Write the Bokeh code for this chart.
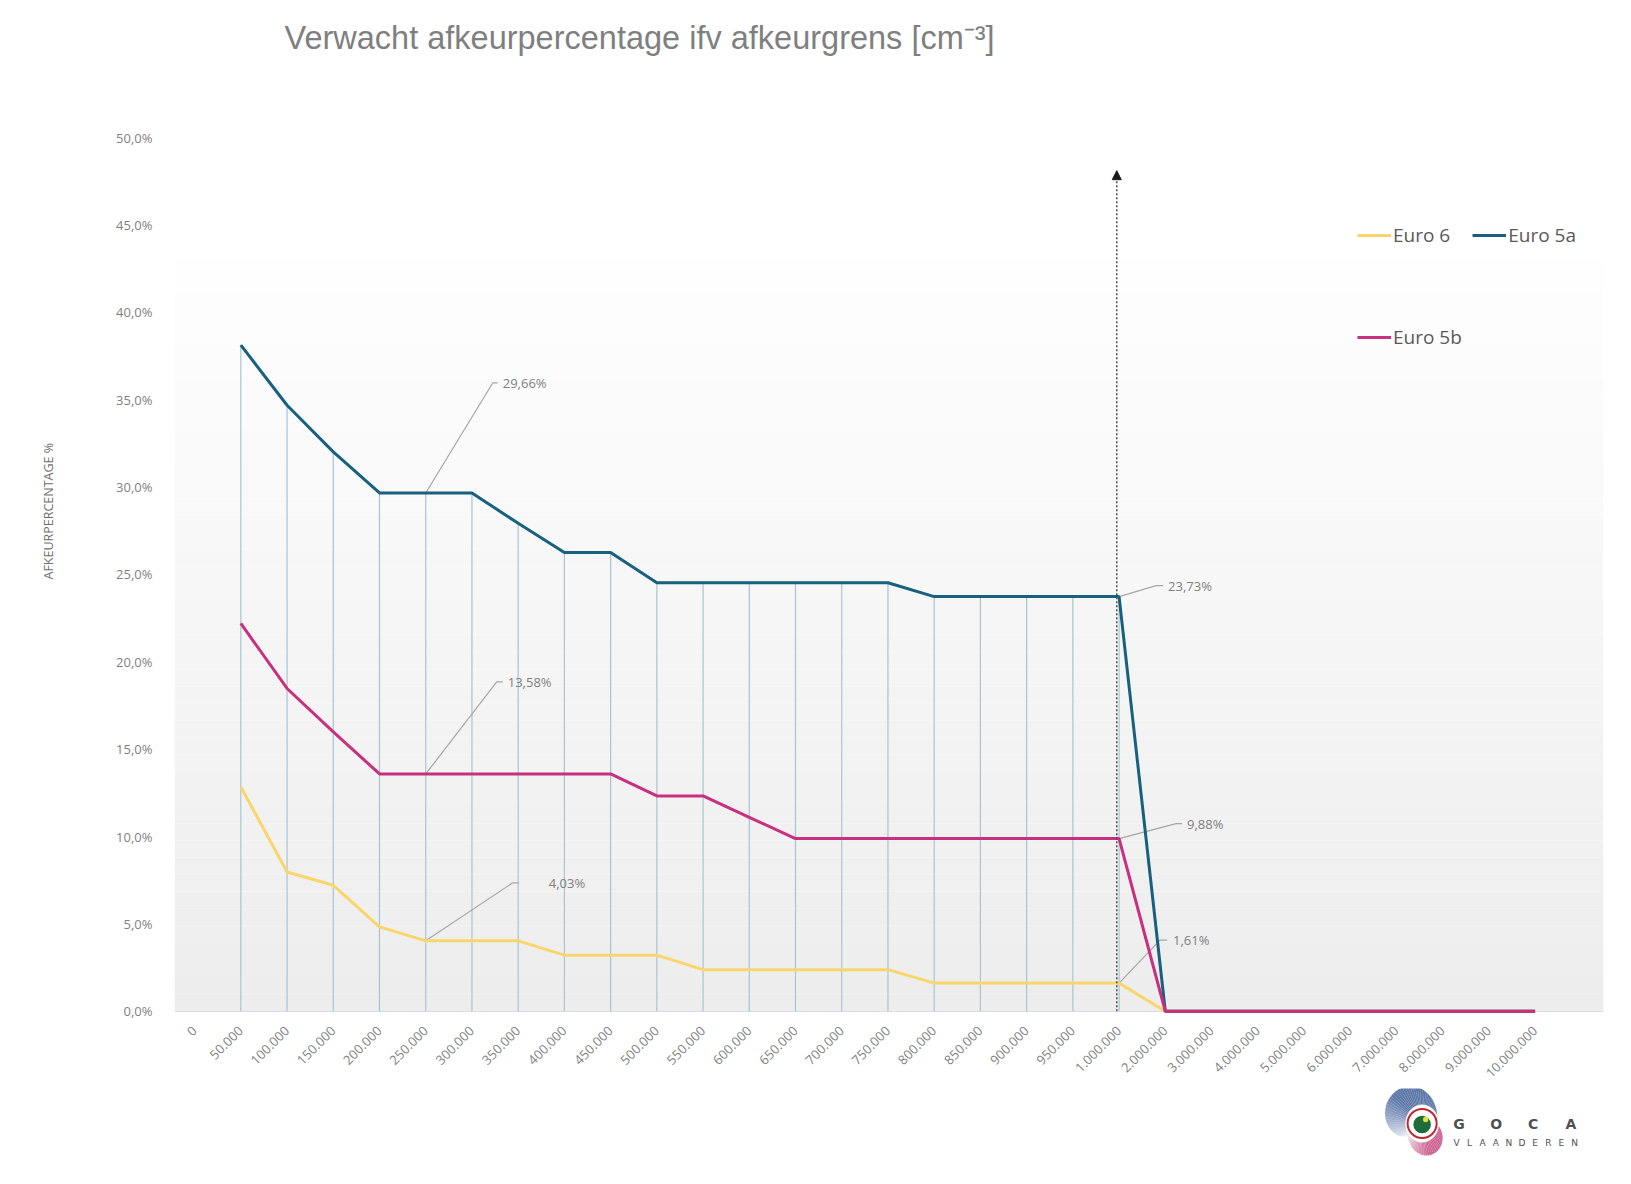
import math
from bokeh.plotting import figure
from bokeh.models import (FixedTicker, Span, Legend, LegendItem, Arrow,
                          NormalHead, Range1d, Title)
from bokeh.layouts import column
from bokeh.embed import file_html
from bokeh.resources import INLINE
from bokeh.core.properties import value

# ---------------- data ----------------
thresholds = ["0", "50.000", "100.000", "150.000", "200.000", "250.000", "300.000",
              "350.000", "400.000", "450.000", "500.000", "550.000", "600.000",
              "650.000", "700.000", "750.000", "800.000", "850.000", "900.000",
              "950.000", "1.000.000", "2.000.000", "3.000.000", "4.000.000",
              "5.000.000", "6.000.000", "7.000.000", "8.000.000", "9.000.000",
              "10.000.000"]
NaN = float("nan")
euro6 = [NaN, 12.84, 7.97, 7.21, 4.83, 4.03, 4.03, 4.03, 3.21, 3.21, 3.21,
         2.38, 2.38, 2.38, 2.38, 2.38, 1.61, 1.61, 1.61, 1.61, 1.61,
         0, 0, 0, 0, 0, 0, 0, 0, 0]
euro5a = [NaN, 38.12, 34.68, 32.01, 29.66, 29.66, 29.66, 27.92, 26.25, 26.25,
          24.52, 24.52, 24.52, 24.52, 24.52, 24.52, 23.73, 23.73, 23.73, 23.73,
          23.73, 0, 0, 0, 0, 0, 0, 0, 0, 0]
euro5b = [NaN, 22.19, 18.47, 15.99, 13.58, 13.58, 13.58, 13.58, 13.58, 13.58,
          12.32, 12.32, 11.10, 9.88, 9.88, 9.88, 9.88, 9.88, 9.88, 9.88,
          9.88, 0, 0, 0, 0, 0, 0, 0, 0, 0]
y_ticks = [0, 5, 10, 15, 20, 25, 30, 35, 40, 45, 50]
limit_category = "1.000.000"
# callouts: series, category, elbow dx px, elbow dy px, hook px, gap px
callouts = [("Euro 5a", "250.000", 67, 110, 5, 5),
            ("Euro 5b", "250.000", 71, 92, 6, 5),
            ("Euro 6", "250.000", 87, 58, 6, 30),
            ("Euro 5a", "1.000.000", 37, 11, 7, 5),
            ("Euro 5b", "1.000.000", 57, 15, 6, 5),
            ("Euro 6", "1.000.000", 41, 43, 7, 6)]

series = {"Euro 6": euro6, "Euro 5a": euro5a, "Euro 5b": euro5b}
colors = {"Euro 6": "#f8d66a", "Euro 5a": "#17607e", "Euro 5b": "#c8307f"}
xs = list(range(len(thresholds)))

# ---------------- layout constants ----------------
W, H = 1623, 1088
ML, MR, MT, MB = 174, 20, 137, 72
X0, X1 = -0.435, 30.48
Y0, Y1 = -0.3, 50
PX_X = (W - ML - MR) / (X1 - X0)
PX_Y = (H - MT - MB) / (Y1 - Y0)


def fmt(v):
    return ("%.2f" % v).replace(".", ",") + "%"


p = figure(width=W, height=H, x_range=Range1d(X0, X1), y_range=Range1d(Y0, Y1),
           output_backend="svg", toolbar_location=None,
           min_border_left=ML, min_border_right=MR, min_border_top=MT,
           min_border_bottom=MB)
p.grid.visible = False
p.outline_line_color = None
p.background_fill_color = "white"
p.border_fill_color = "white"

# title (with an empty spacer panel between it and the frame)
p.add_layout(Title(text=" ", text_font_size="1px", standoff=59), "above")
p.title.text = "Verwacht afkeurpercentage ifv afkeurgrens [cm\u207b\u00b3]"
p.title.text_font = "Liberation Sans"
p.title.text_font_size = "32.5px"
p.title.text_font_style = "normal"
p.title.text_color = "#7f7f7f"
p.title.align = "left"
p.title.offset = 110
p.title.vertical_align = "top"
p.title.standoff = 36

# background gradient
n = 46
bots = [45.0 * k / n for k in range(n)]
tops = [45.0 * (k + 1) / n for k in range(n)]
grad = []
for k in range(n):
    t = k / (n - 1)
    c = int(round(237 + (255 - 237) * t))
    grad.append("#%02x%02x%02x" % (c, c, c))
p.quad(left=X0, right=X1, bottom=bots, top=tops, fill_color=grad, line_color=None)

# drop lines
dl_x = [i for i in xs if euro5a[i] == euro5a[i] and euro5a[i] > 0]
p.segment(x0=dl_x, y0=[0] * len(dl_x), x1=dl_x, y1=[euro5a[i] for i in dl_x],
          line_color="#a9c3d3", line_width=1.2)

p.add_layout(Span(location=0, dimension="width", line_color="#d9d9d9", line_width=1.5,
                  level="underlay"))

# callouts
cx, cy, tx, ty, tt = [], [], [], [], []
for name, cat, dxp, dyp, hook, gap in callouts:
    i = thresholds.index(cat)
    v = series[name][i]
    ex = i + dxp / PX_X
    ey = v + dyp / PX_Y
    cx.append([i, ex, ex + hook / PX_X])
    cy.append([v, ey, ey])
    tx.append(ex + (hook + gap) / PX_X)
    ty.append(ey)
    tt.append(fmt(v))
p.multi_line(xs=cx, ys=cy, line_color="#a6a6a6", line_width=1.2)
p.text(x=tx, y=ty, text=tt, text_font=value("Open Sans"), text_font_size="13px",
       text_color="#7f7f7f", text_baseline="middle", text_align="left")

# series lines
renderers = {}
for name in ["Euro 6", "Euro 5a", "Euro 5b"]:
    renderers[name] = p.line(xs, series[name], line_color=colors[name], line_width=3)

# threshold arrow
li = thresholds.index(limit_category) - 0.05
p.add_layout(Arrow(end=NormalHead(size=9, fill_color="#1a1a1a", line_color="#1a1a1a"),
                   x_start=li, y_start=0, x_end=li, y_end=48.1,
                   line_color="#4d4d4d", line_width=1.5, line_dash="2 2"))

# axes
p.yaxis.ticker = FixedTicker(ticks=y_ticks)
p.yaxis.major_label_overrides = {t: ("%.1f" % t).replace(".", ",") + "%" for t in y_ticks}
p.xaxis.ticker = FixedTicker(ticks=xs)
p.xaxis.major_label_overrides = {i: lab for i, lab in enumerate(thresholds)}
p.xaxis.major_label_orientation = math.pi / 4
for ax in (p.xaxis, p.yaxis):
    ax.axis_line_color = None
    ax.major_tick_line_color = None
    ax.minor_tick_line_color = None
    ax.major_label_text_font = "Open Sans"
    ax.major_label_text_font_size = "13px"
    ax.major_label_text_color = "#7f7f7f"
p.yaxis.major_label_standoff = 16
p.xaxis.major_label_standoff = 6

# y label as a side title, with a spacer panel
p.add_layout(Title(text=" ", text_font_size="1px", standoff=16), "left")
ylab = Title(text="AFKEURPERCENTAGE %", text_font="Open Sans", text_font_size="12.5px",
             text_font_style="normal", text_color="#6f6f6f", align="left",
             offset=437, standoff=72, vertical_align="top")
p.add_layout(ylab, "left")

# legends
leg_style = dict(border_line_color=None, background_fill_alpha=0, padding=0, margin=0,
                 glyph_width=34, glyph_height=24, label_height=24, label_standoff=2,
                 label_text_font="Open Sans", label_text_font_size="19px",
                 label_text_color="#595959", orientation="horizontal", spacing=22)
leg1 = Legend(items=[LegendItem(label="Euro 6", renderers=[renderers["Euro 6"]]),
                     LegendItem(label="Euro 5a", renderers=[renderers["Euro 5a"]])],
              location=(1183, 768), **leg_style)
leg2 = Legend(items=[LegendItem(label="Euro 5b", renderers=[renderers["Euro 5b"]])],
              location=(1183, 666), **leg_style)
p.add_layout(leg1)
p.add_layout(leg2)

# ---------------- logo ----------------
LH = 80
TOP = H
lp = figure(width=W, height=LH, x_range=Range1d(0, W), y_range=Range1d(0, LH),
            output_backend="svg", toolbar_location=None, min_border=0,
            min_border_left=0, min_border_right=0, min_border_top=0, min_border_bottom=0)
lp.axis.visible = False
lp.grid.visible = False
lp.outline_line_color = None


def L(px, py):
    return px, TOP + LH - py


RC = (1417, 1123)


def crescent(a0, a1, thick, alpha, color):
    pxs, pys, al = [], [], []
    step = 4
    a = a0
    while a < a1:
        b = min(a + step, a1)
        pts = []
        for ang, r in [(a, 19 + thick(a)), (b, 19 + thick(b)), (b, 19), (a, 19)]:
            rad = math.radians(ang)
            pts.append(L(RC[0] + r * math.cos(rad), RC[1] - r * math.sin(rad)))
        pxs.append([q[0] for q in pts])
        pys.append([q[1] for q in pts])
        al.append(alpha((a + b) / 2))
        a = b
    lp.patches(pxs, pys, fill_color=color, fill_alpha=al, line_color=None)


crescent(22, 222, lambda a: 26 * math.sin(math.pi * ((a - 22) / 200) ** 1.5),
         lambda a: 0.85 if a < 140 else max(0.03, 0.85 * (222 - a) / 82), "#41609a")
crescent(205, 352, lambda a: 14 * math.sin(math.pi * ((a - 205) / 147) ** 1.3),
         lambda a: 0.85 if a > 285 else max(0.05, 0.85 * (a - 205) / 80), "#c4497f")
gx, gy = L(*RC)
lp.circle(x=[gx], y=[gy], radius=16.5, fill_color="white", line_color="#c0282d", line_width=2)
gx2, gy2 = L(1417, 1124)
lp.circle(x=[gx2], y=[gy2], radius=10, fill_color="#1f6b3a", line_color=None)
yx, yy = L(1421, 1119)
lp.circle(x=[yx], y=[yy], radius=3, fill_color="#e4e23a", line_color=None)

g_x = [L(px, 0)[0] for px in (1459, 1501, 1543, 1586)]
lp.text(x=g_x, y=[L(0, 1123)[1]] * 4, text=list("GOCA"), text_font=value("DejaVu Sans"),
        text_font_style="bold", text_font_size="14px", text_color="#505050",
        text_align="center", text_baseline="middle")
vl = "VLAANDEREN"
v_x = [L(1456 + k * 14.9, 0)[0] for k in range(len(vl))]
lp.text(x=v_x, y=[L(0, 1142)[1]] * len(vl), text=list(vl), text_font=value("DejaVu Sans"),
        text_font_size="9px", text_color="#505050", text_align="center",
        text_baseline="middle")

open("out.html", "w").write(file_html(column(p, lp), INLINE))
